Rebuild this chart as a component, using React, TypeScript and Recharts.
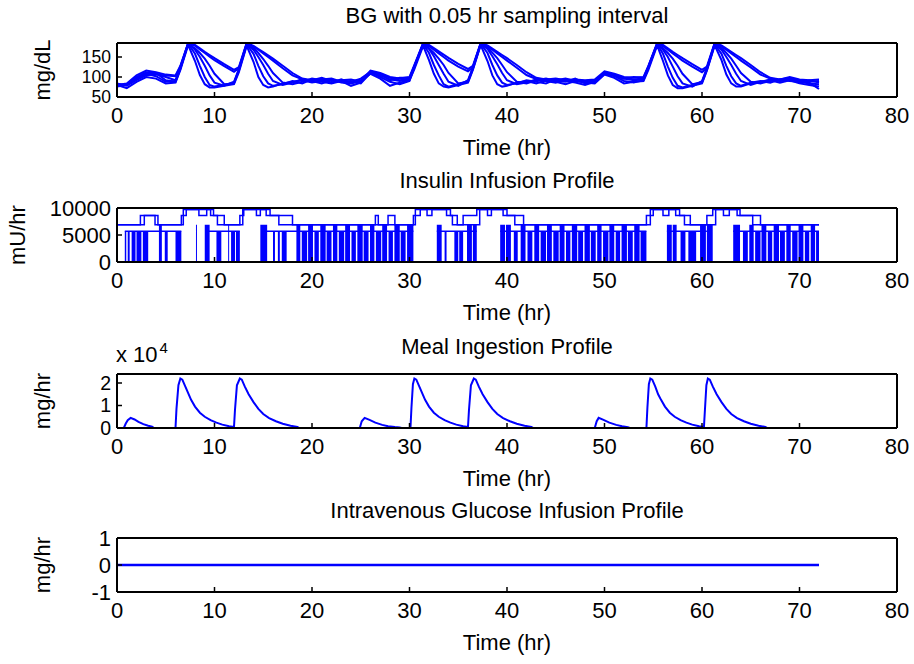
import React from 'react';
import { ComposedChart, Line, Area, XAxis, YAxis } from 'recharts';

const FONT = '"Liberation Sans", Arial, Helvetica, sans-serif';
const BLUE = '#0000ff';

// ---------- axis ticks ----------
const X_TICKS = [0, 10, 20, 30, 40, 50, 60, 70, 80];
const BG_TICKS = [50, 100, 150];
const INS_TICKS = [0, 5000, 10000];
const MEAL_TICKS = [0, 10000, 20000];
const IV_TICKS = [-1, 0, 1];

// ---------- BG (mg/dL), several simulated traces ----------
const BG_TIME = [
  0, 1, 2, 3, 4, 5, 6, 6.5, 7.3, 8, 8.5, 9, 9.5, 10, 11, 12, 12.5, 13.3, 14, 14.5, 15, 15.5, 16, 17, 18, 19, 20, 21, 22, 23,
  24, 25, 26, 27, 28, 29, 30, 30.5, 31.4, 32, 32.5, 33, 33.5, 34, 35, 36, 36.5, 37.3, 38, 38.5, 39, 39.5, 40, 41, 42, 43, 44, 45, 46, 47,
  48, 49, 50, 51, 52, 53, 54, 54.5, 55.4, 56, 56.5, 57, 57.5, 58, 59, 60, 60.5, 61.3, 62, 62.5, 63, 63.5, 64, 65, 66, 67, 68, 69, 70, 71, 72,
];
const BG_A = [
  80, 72, 88, 100, 96, 84, 86, 118, 180, 140, 105, 82, 74, 74, 78, 82, 112, 178, 138, 100, 80, 74, 76, 84, 88, 92, 86, 90, 94, 86,
  84, 90, 108, 96, 78, 86, 92, 120, 178, 142, 108, 84, 76, 74, 80, 86, 118, 180, 140, 104, 82, 76, 78, 86, 90, 84, 92, 88, 82, 90,
  86, 84, 106, 98, 84, 88, 90, 118, 179, 140, 104, 80, 72, 72, 78, 84, 116, 179, 142, 106, 84, 76, 76, 84, 88, 92, 86, 92, 84, 80, 76,
];
const BG_B = [
  82, 80, 95, 108, 102, 88, 90, 122, 183, 158, 128, 100, 80, 76, 80, 86, 118, 182, 158, 128, 102, 84, 78, 82, 90, 84, 94, 88, 84, 90,
  78, 86, 112, 100, 88, 82, 90, 124, 182, 160, 130, 104, 82, 76, 82, 90, 122, 183, 160, 130, 104, 86, 80, 84, 92, 88, 84, 94, 90, 86,
  80, 88, 110, 102, 90, 86, 92, 122, 182, 158, 126, 98, 78, 74, 80, 88, 120, 182, 158, 128, 102, 84, 78, 86, 90, 86, 94, 90, 88, 84, 82,
];
const BG_C = [
  78, 82, 100, 112, 110, 92, 88, 120, 185, 168, 150, 128, 104, 86, 78, 88, 120, 184, 168, 150, 130, 108, 90, 80, 86, 95, 90, 84, 92, 88,
  90, 84, 110, 104, 94, 90, 94, 126, 184, 170, 152, 130, 108, 88, 78, 92, 124, 184, 170, 152, 132, 110, 92, 82, 86, 94, 90, 86, 94, 92,
  90, 86, 108, 104, 96, 92, 94, 124, 184, 168, 150, 126, 102, 84, 76, 90, 122, 184, 168, 150, 130, 108, 90, 80, 88, 94, 90, 96, 92, 88, 90,
];
const BG_D = [
  84, 78, 92, 104, 108, 100, 92, 124, 182, 172, 160, 146, 128, 108, 82, 84, 116, 180, 172, 160, 145, 128, 110, 86, 82, 88, 96, 92, 86, 94,
  86, 92, 114, 108, 98, 92, 96, 128, 181, 172, 160, 146, 130, 110, 84, 88, 120, 181, 173, 161, 147, 130, 112, 88, 84, 92, 96, 90, 88, 96,
  84, 90, 112, 106, 98, 94, 96, 126, 181, 172, 160, 146, 128, 108, 82, 86, 118, 181, 172, 160, 146, 128, 110, 88, 84, 90, 94, 98, 86, 92, 86,
];
const BG_E = [
  80, 84, 104, 116, 112, 106, 104, 128, 185, 180, 172, 163, 155, 147, 132, 118, 125, 185, 178, 170, 162, 154, 146, 128, 110, 96, 92, 98, 90, 92,
  94, 88, 116, 110, 100, 96, 100, 130, 185, 180, 172, 164, 156, 148, 133, 120, 128, 185, 179, 171, 163, 155, 147, 130, 112, 98, 94, 96, 92, 94,
  92, 94, 114, 108, 100, 98, 100, 128, 185, 180, 172, 163, 155, 147, 132, 118, 126, 185, 179, 171, 163, 155, 147, 130, 112, 98, 94, 100, 94, 92, 94,
];
const BG_F = [
  76, 80, 98, 110, 106, 104, 102, 126, 184, 178, 169, 160, 151, 142, 127, 113, 122, 183, 176, 168, 159, 150, 141, 122, 104, 94, 88, 94, 96, 88,
  88, 96, 113, 106, 92, 98, 98, 127, 183, 177, 168, 159, 150, 141, 126, 114, 124, 183, 176, 168, 159, 150, 141, 123, 105, 95, 90, 92, 96, 90,
  88, 92, 110, 104, 96, 100, 98, 126, 183, 177, 168, 159, 150, 141, 126, 112, 122, 183, 176, 168, 159, 150, 141, 124, 106, 96, 90, 94, 90, 86, 70,
];

// ---------- Insulin (mU/hr) ----------
// upper step traces: [time, rate]
const INS_H1 = [
  [0, 6900], [2.4, 8600], [4.2, 6900], [6.6, 8600], [7.1, 9700], [9.9, 8600], [10.3, 6900], [12.6, 8600], [13.0, 9700],
  [15.7, 8600], [18.0, 6900], [26.5, 8600], [26.8, 6900], [27.8, 8600], [28.5, 6900], [30.4, 8600], [31.1, 9700],
  [34.2, 8600], [34.9, 6900], [35.5, 8600], [36.9, 9700], [40.0, 8600], [41.7, 6900], [54.3, 8600], [55.0, 9700],
  [57.7, 8600], [58.8, 6900], [60.5, 8600], [61.1, 9700], [63.9, 8600], [66.0, 6900], [72, 6900],
];
const INS_H2 = [
  [0, 6900], [2.8, 8600], [3.9, 6900], [6.8, 9700], [8.4, 8600], [9.2, 9700], [9.6, 8600], [11.0, 6900], [12.9, 9700],
  [14.3, 8600], [14.7, 9700], [15.3, 8600], [16.6, 6900], [30.6, 9700], [31.8, 8600], [32.3, 9700], [33.8, 8600],
  [34.4, 6900], [37.2, 9700], [38.0, 8600], [38.4, 9700], [39.6, 8600], [40.8, 6900], [54.7, 9700], [56.0, 8600],
  [56.6, 9700], [57.3, 8600], [58.2, 6900], [61.4, 9700], [62.2, 8600], [62.8, 9700], [63.6, 8600], [65.2, 6900], [72, 6900],
];
// intervals where a trace sits at the lower 5700 level: [start, end]
const INS_LOW = [[0.8, 6.6], [9.3, 12.6], [15.0, 30.4], [32.8, 36.9], [39.3, 54.3], [56.4, 60.5], [63.2, 72]];
// densely switching (on/off) stretches: [start, end, top rate]
const INS_BLOCKS = [
  [0.8, 0.95, 5700], [1.1, 1.3, 5700], [1.5, 1.9, 5700], [2.0, 2.5, 5700], [2.65, 3.2, 5700],
  [4.3, 4.6, 6900], [4.9, 5.2, 5700], [6.0, 6.6, 5700], [8.1, 8.2, 6900], [9.0, 9.5, 6900], [10.2, 10.7, 5700],
  [11.4, 11.5, 6900], [11.7, 12.1, 5700], [12.2, 12.6, 5700],
  [14.7, 15.4, 6900], [16.0, 16.2, 5700], [16.5, 16.7, 5700], [16.9, 17.4, 5700],
  [18.4, 18.8, 6900], [18.95, 19.5, 5700], [19.6, 20.1, 6900], [20.25, 20.7, 5700], [20.85, 21.4, 6900], [21.5, 22.0, 5700],
  [22.15, 22.6, 6900], [22.75, 23.3, 5700], [23.4, 23.9, 6900], [24.05, 24.5, 5700], [24.65, 25.2, 6900], [25.3, 25.8, 5700],
  [25.95, 26.4, 6900], [26.55, 27.1, 5700], [27.2, 27.7, 6900], [27.85, 28.3, 5700], [28.45, 29.0, 6900], [29.1, 29.6, 5700],
  [29.75, 30.4, 6900],
  [32.8, 33.3, 6900], [33.6, 33.8, 5700], [34.6, 35.0, 5700], [35.1, 35.5, 5700], [35.9, 36.4, 6900], [36.5, 36.9, 6900],
  [39.3, 39.8, 6900], [39.9, 40.4, 6900], [40.7, 41.1, 5700], [41.4, 41.9, 6900], [42.1, 42.6, 5700], [42.8, 43.3, 6900],
  [43.45, 44.0, 5700], [44.1, 44.6, 6900], [44.75, 45.3, 5700], [45.4, 45.9, 6900], [46.05, 46.5, 5700], [46.65, 47.2, 6900],
  [47.3, 47.8, 5700], [47.95, 48.5, 6900], [48.6, 49.1, 5700], [49.25, 49.7, 6900], [49.85, 50.4, 5700], [50.5, 51.0, 6900],
  [51.15, 51.6, 5700], [51.75, 52.3, 6900], [52.4, 52.9, 5700], [53.05, 53.6, 6900], [53.7, 54.3, 5700],
  [56.4, 56.9, 6900], [57.0, 57.4, 6900], [57.8, 58.3, 5700], [58.6, 59.4, 5700], [59.8, 60.4, 6900], [60.5, 61.1, 6900],
  [63.2, 63.9, 6900], [64.2, 64.7, 5700], [64.85, 65.3, 6900], [65.45, 66.0, 5700], [66.1, 66.6, 6900], [66.75, 67.2, 5700],
  [67.35, 67.9, 6900], [68.0, 68.5, 5700], [68.65, 69.1, 6900], [69.25, 69.8, 5700], [69.9, 70.4, 6900], [70.55, 71.0, 5700],
  [71.15, 71.6, 6900], [71.7, 72.0, 5700],
];

// ---------- Meal ingestion (mg/hr) ----------
const MEAL_T = [
  0, 0.7, 0.9, 1.1, 1.4, 1.8, 2.2, 2.7, 3.2, 3.6, 3.8,
  6.0, 6.1, 6.3, 6.5, 6.7, 7.0, 7.3, 7.6, 8.0, 8.5, 9.0, 9.6, 10.2, 10.8, 11.5, 12.0,
  12.1, 12.3, 12.6, 12.8, 13.1, 13.5, 14.0, 14.5, 15.0, 15.6, 16.3, 17.0, 17.8, 18.5, 18.7,
  24.9, 25.1, 25.4, 25.9, 26.5, 27.2, 27.8, 28.5, 29.0, 29.2,
  30.1, 30.2, 30.35, 30.5, 30.7, 31.0, 31.3, 31.6, 32.0, 32.5, 33.0, 33.6, 34.2, 34.8, 35.5, 36.0,
  36.1, 36.3, 36.6, 36.8, 37.1, 37.5, 38.0, 38.5, 39.0, 39.6, 40.3, 41.0, 41.8, 42.5, 42.7,
  49.0, 49.2, 49.4, 49.9, 50.5, 51.2, 51.8, 52.4, 52.6,
  54.3, 54.4, 54.55, 54.7, 54.9, 55.2, 55.5, 55.8, 56.2, 56.7, 57.2, 57.8, 58.4, 59.0, 59.7, 60.2,
  60.3, 60.45, 60.6, 60.8, 61.1, 61.5, 62.0, 62.5, 63.0, 63.6, 64.3, 65.0, 65.8, 66.5, 66.7,
  71.9,
];
const MEAL_V = [
  0, 0, 2000, 3500, 4500, 3800, 2700, 1700, 1000, 600, 0,
  0, 8500, 19000, 22000, 21500, 18500, 15500, 12500, 9500, 6800, 5000, 3500, 2400, 1500, 800, 500,
  8000, 19000, 22000, 21500, 18500, 15000, 11500, 8500, 6200, 4400, 3000, 1900, 1000, 500, 0,
  0, 3000, 4500, 3600, 2400, 1400, 800, 400, 200, 0,
  0, 9000, 19500, 22000, 21500, 18500, 15500, 12500, 9500, 6800, 5000, 3500, 2400, 1500, 800, 500,
  8000, 19000, 22000, 21500, 18500, 15000, 11500, 8500, 6200, 4400, 3000, 1900, 1000, 500, 0,
  0, 3000, 4500, 3600, 2400, 1400, 800, 300, 0,
  0, 9000, 19500, 22000, 21500, 18500, 15000, 12500, 9500, 6800, 5000, 3500, 2400, 1500, 800, 500,
  8000, 19000, 22000, 21500, 18500, 15000, 11500, 8500, 6200, 4400, 3000, 1900, 1000, 500, 0,
  0,
];

// ---------- IV glucose (mg/hr) ----------
const IV_T = [0, 72];
const IV_V = [0, 0];

// ---------- derived tables ----------
const bgData = BG_TIME.map((t, i) => ({ t, a: BG_A[i], b: BG_B[i], c: BG_C[i], d: BG_D[i], e: BG_E[i], f: BG_F[i] }));
const toRows = (pairs) => pairs.map(([t, v]) => ({ t, v }));
const insH1 = toRows(INS_H1);
const insH2 = toRows(INS_H2);
const insLow = INS_LOW.flatMap(([s, e]) => [{ t: s, v: 5700 }, { t: e, v: 5700 }, { t: e, v: null }]);
const insBlocks = INS_BLOCKS.flatMap(([s, e, l]) => [{ t: s, v: l }, { t: e, v: 0 }]);
const mealData = MEAL_T.map((t, i) => ({ t, v: MEAL_V[i] }));
const ivData = IV_T.map((t, i) => ({ t, v: IV_V[i] }));

const FS = 22;
const tickStyle = { fill: '#000', fontSize: FS, fontFamily: FONT };
const axisLine = { stroke: '#000', strokeWidth: 2 };
const tickLine = { stroke: '#000', strokeWidth: 1.5 };

function Panel({ top, yDomain, yTicks, yFmt, yFont, children }) {
  return (
    <div style={{ position: 'absolute', left: 0, top: top - 20 }}>
      <ComposedChart width={914} height={114} margin={{ top: 19, right: 16, bottom: 0, left: 56 }}>
        <XAxis xAxisId="b" dataKey="t" type="number" domain={[0, 80]} ticks={X_TICKS} interval={0}
          allowDataOverflow height={40} axisLine={axisLine} tickLine={tickLine} tickSize={-5} tickMargin={15}
          tick={tickStyle} />
        <XAxis xAxisId="t" orientation="top" dataKey="t" type="number" domain={[0, 80]} ticks={X_TICKS} interval={0}
          allowDataOverflow height={1} axisLine={axisLine} tickLine={tickLine} tickSize={-5} tick={false} />
        <YAxis yAxisId="l" type="number" domain={yDomain} ticks={yTicks} interval={0} allowDataOverflow width={61}
          axisLine={axisLine} tickLine={tickLine} tickSize={-5} tickMargin={11}
          tick={{ ...tickStyle, fontSize: yFont || FS }} tickFormatter={yFmt} />
        <YAxis yAxisId="r" orientation="right" type="number" domain={yDomain} ticks={yTicks} interval={0}
          allowDataOverflow width={1} axisLine={axisLine} tickLine={tickLine} tickSize={-5} tick={false} />
        {children}
        <Line xAxisId="t" yAxisId="r" data={[{ t: 0, v: yDomain[0] }, { t: 80, v: yDomain[1] }]} dataKey="v"
          stroke="none" dot={false} isAnimationActive={false} />
      </ComposedChart>
    </div>
  );
}

const txt = { position: 'absolute', fontFamily: FONT, fontSize: FS, color: '#000', lineHeight: '26px', whiteSpace: 'nowrap' };

function Title({ top, text }) {
  return <div style={{ ...txt, left: 117, width: 780, top: top - 40, textAlign: 'center' }}>{text}</div>;
}
function TimeLabel({ top }) {
  return <div style={{ ...txt, left: 117, width: 780, top: top + 92, textAlign: 'center' }}>Time (hr)</div>;
}
function YLabel({ cx, cy, text }) {
  return (
    <div style={{ ...txt, left: cx - 60, top: cy - 13, width: 120, height: 26, textAlign: 'center', transform: 'rotate(-90deg)' }}>
      {text}
    </div>
  );
}

const P1 = 43, P2 = 208, P3 = 374, P4 = 538;
const lineProps = { xAxisId: 'b', yAxisId: 'l', dot: false, isAnimationActive: false, stroke: BLUE };

export default function App() {
  return (
    <div style={{ position: 'absolute', left: 0, top: 0, width: 914, height: 664, background: '#fff', overflow: 'hidden' }}>
      {/* BG */}
      <Panel top={P1} yDomain={[50, 185]} yTicks={BG_TICKS} yFont={17.5}>
        {['a', 'b', 'c', 'd', 'e', 'f'].map((k) => (
          <Line key={k} {...lineProps} data={bgData} dataKey={k} type="linear" strokeWidth={2} />
        ))}
      </Panel>
      <Title top={P1} text="BG with 0.05 hr sampling interval" />
      <TimeLabel top={P1} />
      <YLabel cx={43} cy={P1 + 27} text="mg/dL" />

      {/* Insulin */}
      <Panel top={P2} yDomain={[0, 10000]} yTicks={INS_TICKS}>
        <Area xAxisId="b" yAxisId="l" data={insBlocks} dataKey="v" type="stepAfter" fill={BLUE} fillOpacity={1}
          stroke="none" isAnimationActive={false} />
        <Line {...lineProps} data={insLow} dataKey="v" type="linear" strokeWidth={1.5} />
        <Line {...lineProps} data={insH1} dataKey="v" type="stepAfter" strokeWidth={1.5} />
        <Line {...lineProps} data={insH2} dataKey="v" type="stepAfter" strokeWidth={1.5} />
      </Panel>
      <Title top={P2} text="Insulin Infusion Profile" />
      <TimeLabel top={P2} />
      <YLabel cx={18} cy={P2 + 27} text="mU/hr" />

      {/* Meal */}
      <Panel top={P3} yDomain={[0, 24000]} yTicks={MEAL_TICKS} yFmt={(v) => String(v / 10000)} yFont={19.5}>
        <Line {...lineProps} data={mealData} dataKey="v" type="linear" strokeWidth={2} />
      </Panel>
      <Title top={P3} text="Meal Ingestion Profile" />
      <TimeLabel top={P3} />
      <YLabel cx={43} cy={P3 + 27} text="mg/hr" />
      <div style={{ ...txt, left: 116, top: P3 - 32 }}>
        x 10<span style={{ fontSize: 15, position: 'relative', top: -9, marginLeft: 2 }}>4</span>
      </div>

      {/* IV glucose */}
      <Panel top={P4} yDomain={[-1, 1]} yTicks={IV_TICKS}>
        <Line {...lineProps} data={ivData} dataKey="v" type="linear" strokeWidth={2.5} />
      </Panel>
      <Title top={P4} text="Intravenous Glucose Infusion Profile" />
      <TimeLabel top={P4} />
      <YLabel cx={43} cy={P4 + 27} text="mg/hr" />
    </div>
  );
}
